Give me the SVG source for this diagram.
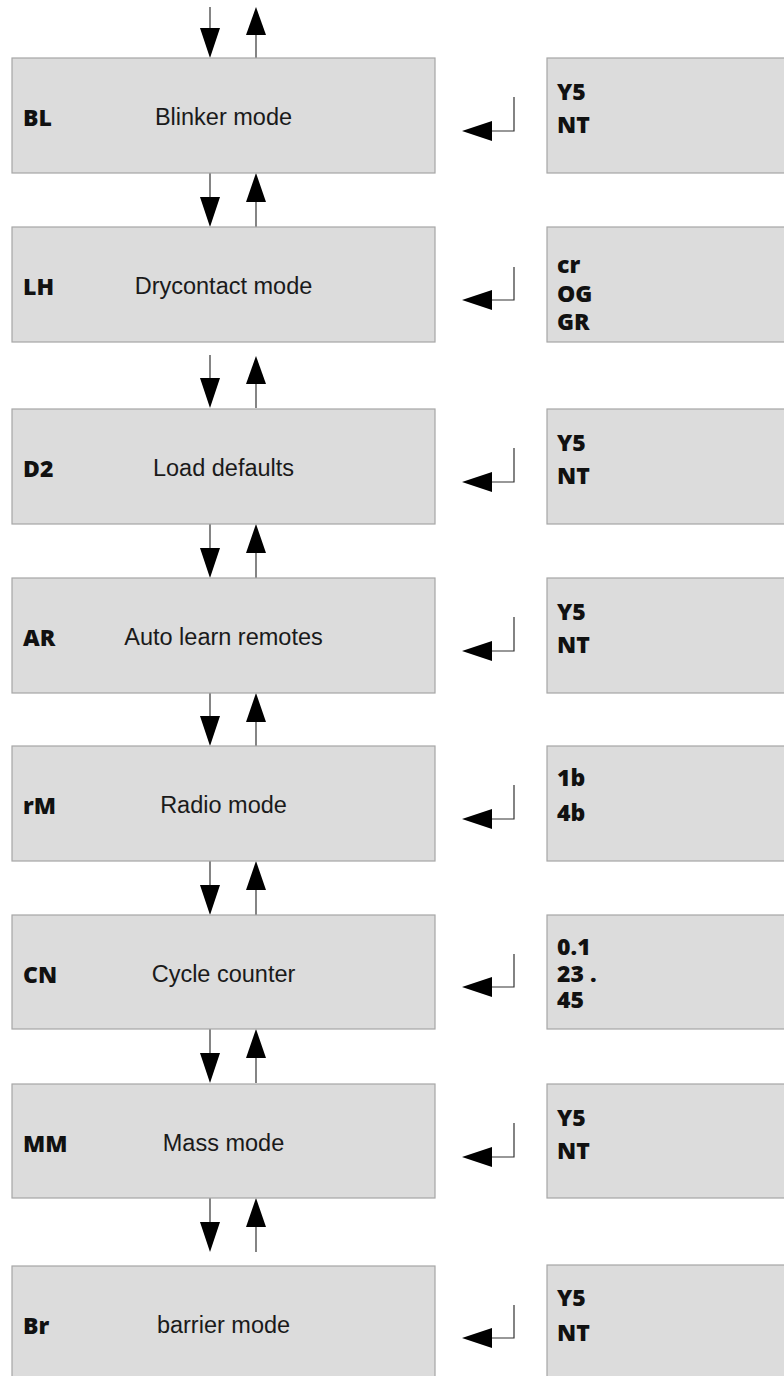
<svg xmlns="http://www.w3.org/2000/svg" width="784" height="1376" viewBox="0 0 784 1376">
<style>
.box{fill:#dcdcdc;stroke:#a6a6a6;stroke-width:1.2}
.code{font-family:"Open Sans","Noto Sans",sans-serif;font-weight:800;font-size:23px;fill:#111}
.desc{font-family:"Liberation Sans",Arial,sans-serif;font-size:23.5px;fill:#1a1a1a;text-anchor:middle}
.ln{stroke:#333;stroke-width:1.2;fill:none}
.hd{fill:#000}
</style>
<rect width="784" height="1376" fill="#fff"/>
<g id="connectors">
<line class="ln" x1="210" y1="7" x2="210" y2="30"/><polygon class="hd" points="200,28 220,28 210,58"/>
<line class="ln" x1="256" y1="34" x2="256" y2="58"/><polygon class="hd" points="256,7 246,35 266,35"/>
<line class="ln" x1="210" y1="173" x2="210" y2="199"/><polygon class="hd" points="200,197 220,197 210,227"/>
<line class="ln" x1="256" y1="200" x2="256" y2="227"/><polygon class="hd" points="256,173 246,202 266,202"/>
<line class="ln" x1="210" y1="355" x2="210" y2="380"/><polygon class="hd" points="200,378 220,378 210,408"/>
<line class="ln" x1="256" y1="382" x2="256" y2="408"/><polygon class="hd" points="256,356 246,384 266,384"/>
<line class="ln" x1="210" y1="524" x2="210" y2="550"/><polygon class="hd" points="200,548 220,548 210,578"/>
<line class="ln" x1="256" y1="551" x2="256" y2="578"/><polygon class="hd" points="256,524 246,553 266,553"/>
<line class="ln" x1="210" y1="693" x2="210" y2="718"/><polygon class="hd" points="200,716 220,716 210,746"/>
<line class="ln" x1="256" y1="720" x2="256" y2="746"/><polygon class="hd" points="256,693 246,722 266,722"/>
<line class="ln" x1="210" y1="861" x2="210" y2="887"/><polygon class="hd" points="200,885 220,885 210,915"/>
<line class="ln" x1="256" y1="888" x2="256" y2="915"/><polygon class="hd" points="256,861 246,890 266,890"/>
<line class="ln" x1="210" y1="1029" x2="210" y2="1055"/><polygon class="hd" points="200,1053 220,1053 210,1083"/>
<line class="ln" x1="256" y1="1056" x2="256" y2="1083"/><polygon class="hd" points="256,1029 246,1058 266,1058"/>
<line class="ln" x1="210" y1="1198" x2="210" y2="1224"/><polygon class="hd" points="200,1222 220,1222 210,1252"/>
<line class="ln" x1="256" y1="1225" x2="256" y2="1252"/><polygon class="hd" points="256,1198 246,1227 266,1227"/>
<polyline class="ln" points="514,97 514,131 490,131"/><polygon class="hd" points="462,131 492,121 492,141"/>
<polyline class="ln" points="514,267 514,300 490,300"/><polygon class="hd" points="462,300 492,290 492,310"/>
<polyline class="ln" points="514,448 514,482 490,482"/><polygon class="hd" points="462,482 492,472 492,492"/>
<polyline class="ln" points="514,617 514,651 490,651"/><polygon class="hd" points="462,651 492,641 492,661"/>
<polyline class="ln" points="514,785 514,819 490,819"/><polygon class="hd" points="462,819 492,809 492,829"/>
<polyline class="ln" points="514,954 514,987 490,987"/><polygon class="hd" points="462,987 492,977 492,997"/>
<polyline class="ln" points="514,1123 514,1157 490,1157"/><polygon class="hd" points="462,1157 492,1147 492,1167"/>
<polyline class="ln" points="514,1305 514,1338 490,1338"/><polygon class="hd" points="462,1338 492,1328 492,1348"/>
</g>
<g id="node-bl"><rect class="box" x="12" y="58" width="423" height="115"/><text class="code" x="23" y="126">BL</text><text class="desc" x="223.5" y="125">Blinker mode</text></g>
<g id="opt-bl"><rect class="box" x="547" y="58" width="260" height="115"/><text class="code" x="557" y="100">Y5</text><text class="code" x="557" y="133">NT</text></g>
<g id="node-lh"><rect class="box" x="12" y="227" width="423" height="115"/><text class="code" x="23" y="295">LH</text><text class="desc" x="223.5" y="294">Drycontact mode</text></g>
<g id="opt-lh"><rect class="box" x="547" y="227" width="260" height="115"/><text class="code" x="557" y="273">cr</text><text class="code" x="557" y="302">OG</text><text class="code" x="557" y="330">GR</text></g>
<g id="node-d2"><rect class="box" x="12" y="409" width="423" height="115"/><text class="code" x="23" y="477">D2</text><text class="desc" x="223.5" y="476">Load defaults</text></g>
<g id="opt-d2"><rect class="box" x="547" y="409" width="260" height="115"/><text class="code" x="557" y="451">Y5</text><text class="code" x="557" y="484">NT</text></g>
<g id="node-ar"><rect class="box" x="12" y="578" width="423" height="115"/><text class="code" x="23" y="646">AR</text><text class="desc" x="223.5" y="645">Auto learn remotes</text></g>
<g id="opt-ar"><rect class="box" x="547" y="578" width="260" height="115"/><text class="code" x="557" y="620">Y5</text><text class="code" x="557" y="653">NT</text></g>
<g id="node-rm"><rect class="box" x="12" y="746" width="423" height="115"/><text class="code" x="23" y="814">rM</text><text class="desc" x="223.5" y="813">Radio mode</text></g>
<g id="opt-rm"><rect class="box" x="547" y="746" width="260" height="115"/><text class="code" x="557" y="786">1b</text><text class="code" x="557" y="821">4b</text></g>
<g id="node-cn"><rect class="box" x="12" y="915" width="423" height="114"/><text class="code" x="23" y="983">CN</text><text class="desc" x="223.5" y="982">Cycle counter</text></g>
<g id="opt-cn"><rect class="box" x="547" y="915" width="260" height="114"/><text class="code" x="557" y="955">0.1</text><text class="code" x="557" y="982">23 .</text><text class="code" x="557" y="1008">45</text></g>
<g id="node-mm"><rect class="box" x="12" y="1084" width="423" height="114"/><text class="code" x="23" y="1152">MM</text><text class="desc" x="223.5" y="1151">Mass mode</text></g>
<g id="opt-mm"><rect class="box" x="547" y="1084" width="260" height="114"/><text class="code" x="557" y="1126">Y5</text><text class="code" x="557" y="1159">NT</text></g>
<g id="node-br"><rect class="box" x="12" y="1266" width="423" height="120"/><text class="code" x="23" y="1334">Br</text><text class="desc" x="223.5" y="1333">barrier mode</text></g>
<g id="opt-br"><rect class="box" x="547" y="1265" width="260" height="120"/><text class="code" x="557" y="1306">Y5</text><text class="code" x="557" y="1341">NT</text></g>
</svg>
